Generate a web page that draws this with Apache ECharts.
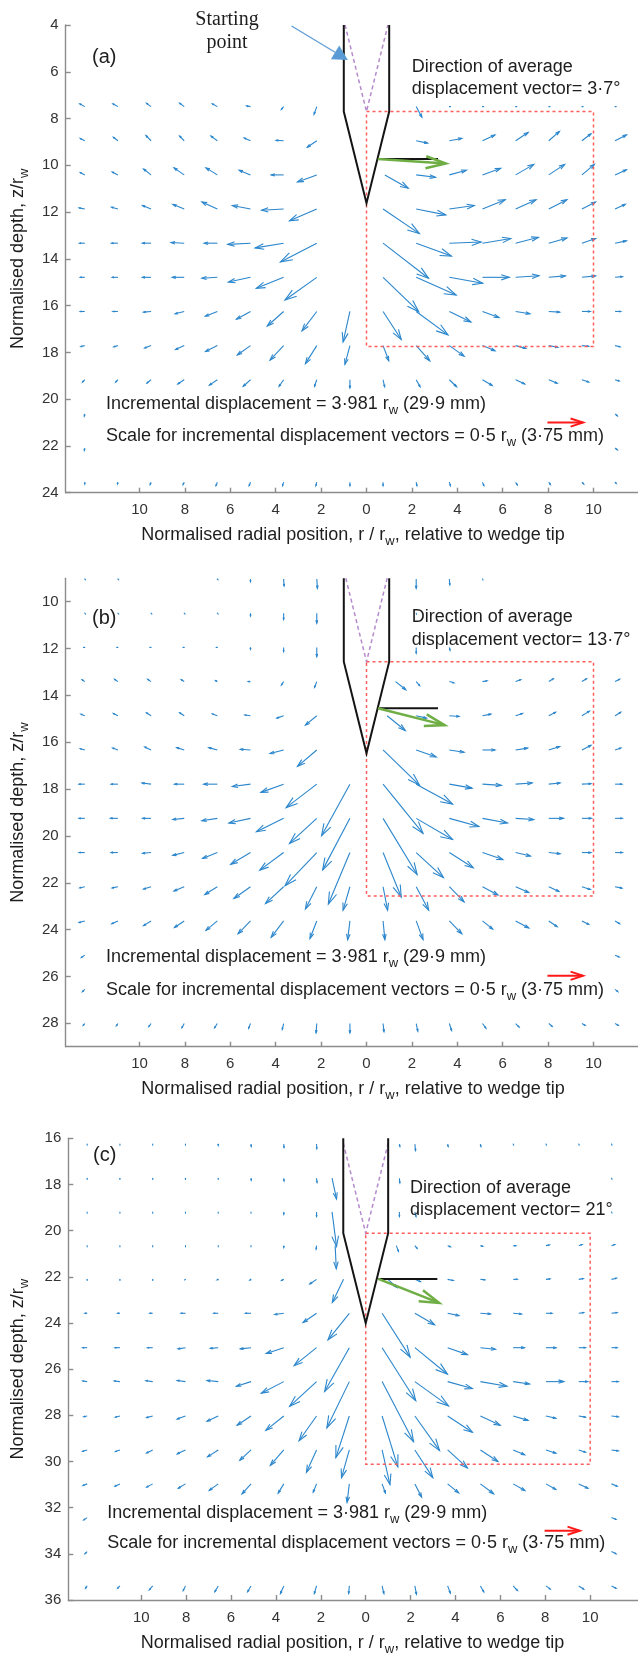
<!DOCTYPE html>
<html><head><meta charset="utf-8">
<script src="https://cdn.jsdelivr.net/npm/echarts@6/dist/echarts.min.js"></script>
<style>html,body{margin:0;padding:0;background:#fff}#c{width:638px;height:1655px}</style>
</head><body><div id="c"></div>
<script>
const _ = null;
// grid columns (r / r_w) shared by all panels
const COL_R = [-12.41,-10.95,-9.49,-8.03,-6.57,-5.11,-3.65,-2.19,-0.73,0.73,2.19,3.65,5.11,6.57,8.03,9.49,10.95];

// ---------- panel (a) ----------
const ROWS_A = [7.49,8.95,10.41,11.87,13.33,14.79,16.25,17.71,19.17,20.63,22.09,23.55];
const U_A = [
[-0.22,-0.22,-0.2,-0.2,-0.22,-0.17,-0.1,-0.12,_,_,0.25,0.05,0.03,0.03,0.02,0.02,0.02],
[-0.2,-0.2,-0.22,-0.2,-0.28,-0.28,-0.33,-0.42,_,_,0.5,0.55,0.55,0.55,0.47,0.4,0.5],
[-0.2,-0.25,-0.33,-0.45,-0.5,-0.5,-0.55,-0.85,_,1.03,0.85,0.75,0.8,0.8,0.7,0.55,0.5],
[-0.25,-0.28,-0.38,-0.5,-0.68,-0.8,-0.97,-1.2,_,1.6,1.3,1.1,1.0,0.9,0.8,0.6,0.45],
[-0.23,-0.28,-0.38,-0.58,-0.58,-1.0,-1.25,-1.6,_,2.0,1.55,1.4,1.25,1.0,0.8,0.6,0.5],
[-0.2,-0.25,-0.38,-0.53,-0.68,-0.97,-1.2,-1.4,_,1.57,1.76,1.47,1.18,1.03,0.73,0.6,0.32],
[-0.2,-0.22,-0.33,-0.4,-0.53,-0.62,-0.72,-0.65,-0.3,0.8,1.4,0.95,0.73,0.63,0.48,0.37,0.25],
[-0.17,-0.18,-0.28,-0.38,-0.52,-0.58,-0.6,-0.5,-0.22,0.25,0.6,0.65,0.55,0.45,0.4,0.3,0.22],
[-0.1,-0.1,-0.18,-0.28,-0.35,-0.32,-0.2,-0.1,0,0.07,0.17,0.32,0.43,0.4,0.37,0.3,0.18],
[-0.02,_,_,_,_,_,_,_,_,_,_,_,_,_,_,_,0.1],
[-0.02,_,_,_,_,_,_,_,_,_,_,_,_,_,_,_,0.1],
[0,-0.02,-0.04,-0.05,-0.06,-0.06,-0.05,-0.04,0,0,0.03,0.05,0.06,0.07,0.07,0.08,0.05]
];
const W_A = [
[-0.12,-0.12,-0.14,-0.15,-0.12,-0.03,0.12,0.33,_,_,0.45,0,0,0,0,0,0],
[-0.1,-0.15,-0.22,-0.2,-0.2,-0.12,-0.02,0.28,_,_,0.1,-0.1,-0.25,-0.35,-0.4,-0.3,-0.25],
[-0.1,-0.12,-0.25,-0.3,-0.3,-0.2,0,0.3,_,0.57,0.1,-0.2,-0.28,-0.45,-0.45,-0.45,-0.22],
[-0.05,-0.08,-0.15,-0.2,-0.3,-0.15,0.05,0.5,_,1.05,0.25,-0.15,-0.4,-0.4,-0.4,-0.3,-0.2],
[0,0,0,-0.03,0,0.05,0.2,0.8,_,1.5,0.55,-0.05,-0.2,-0.25,-0.22,-0.2,-0.1],
[0,0,0,0,0.04,0.2,0.47,0.97,_,1.47,0.76,0.25,0,-0.07,-0.06,-0.06,-0.03],
[0,0,0.03,0.1,0.2,0.33,0.62,0.83,1.3,1.2,1.0,0.45,0.26,0.1,0.03,0,0],
[0.04,0.05,0.1,0.17,0.25,0.4,0.62,0.77,0.8,0.65,0.65,0.45,0.22,0.12,0.07,0.03,0.05],
[0.1,0.1,0.14,0.18,0.23,0.28,0.28,0.28,0.35,0.3,0.3,0.3,0.25,0.18,0.15,0.1,0.05],
[0.1,_,_,_,_,_,_,_,_,_,_,_,_,_,_,_,0.08],
[0.1,_,_,_,_,_,_,_,_,_,_,_,_,_,_,_,0.08],
[0.08,0.08,0.1,0.1,0.15,0.15,0.15,0.15,0.15,0.15,0.15,0.15,0.15,0.12,0.1,0.08,0.05]
];

// ---------- panel (b) ----------
const ROWS_B = [9.03,10.49,11.95,13.41,14.87,16.33,17.79,19.25,20.71,22.17,23.63,25.09,26.55,28.01];
const U_B = [
[0.01,0.01,_,_,0.01,0,0.02,0.03,_,_,0,0.02,0.02,_,_,_,_],
[0.01,0.01,0.01,0.01,0.01,0,0,0,_,_,0.01,_,_,_,_,_,_],
[-0.05,-0.04,-0.04,-0.04,-0.03,0,0,0,_,_,0,0.03,_,_,_,_,_],
[-0.12,-0.15,-0.15,-0.13,-0.08,-0.1,-0.1,-0.1,_,0.45,0.15,0.2,0.2,0.22,0.2,0.2,0.2],
[-0.17,-0.2,-0.2,-0.2,-0.22,-0.25,-0.3,-0.5,_,0.8,0.45,0.43,0.37,0.3,0.3,0.33,0.25],
[-0.2,-0.23,-0.28,-0.33,-0.38,-0.45,-0.6,-0.85,_,1.6,0.88,0.65,0.55,0.53,0.48,0.4,0.25],
[-0.25,-0.3,-0.4,-0.43,-0.6,-0.8,-1.0,-1.35,-1.25,1.76,1.6,1.0,0.83,0.73,0.5,0.4,0.3],
[-0.25,-0.33,-0.37,-0.5,-0.68,-0.95,-1.2,-1.2,-1.2,1.5,1.6,1.3,1.1,0.8,0.65,0.42,0.32],
[-0.25,-0.3,-0.37,-0.5,-0.65,-0.87,-1.05,-1.4,-0.95,0.8,1.2,1.05,0.9,0.65,0.5,0.4,0.32],
[-0.22,-0.25,-0.33,-0.45,-0.55,-0.73,-0.8,-0.5,-0.3,0.2,0.55,0.65,0.68,0.58,0.45,0.37,0.3],
[-0.25,-0.27,-0.33,-0.43,-0.5,-0.55,-0.55,-0.3,-0.1,0.08,0.3,0.55,0.45,0.58,0.37,0.3,0.2],
[-0.15,_,_,_,_,_,_,_,_,_,_,_,_,_,_,_,0.18],
[-0.1,_,_,_,_,_,_,_,_,_,_,_,_,_,_,_,0.12],
[-0.07,-0.07,-0.1,-0.1,-0.12,-0.08,-0.06,-0.03,0,0.04,0.07,0.1,0.15,0.15,0.15,0.14,0.14]
];
const W_B = [
[0.01,0.01,_,_,0.01,0.12,0.3,0.4,_,_,0.4,0.25,0.04,_,_,_,_],
[0.01,0.01,0.01,0.01,0.01,0.12,0.27,0.43,_,_,0.03,_,_,_,_,_,_],
[0,0,0,0,0,0.08,0.18,0.4,_,_,0.25,0.12,_,_,_,_,_],
[-0.08,-0.1,-0.1,-0.08,-0.04,0,0.15,0.25,_,0.35,0.17,0.05,-0.03,-0.08,-0.12,-0.12,-0.1],
[-0.07,-0.1,-0.13,-0.13,-0.08,-0.03,0.1,0.4,_,0.63,0.1,0.03,-0.07,-0.1,-0.15,-0.2,-0.15],
[-0.05,-0.08,-0.13,-0.1,-0.1,-0.03,0.15,0.7,_,1.5,0.3,0.1,0,-0.08,-0.15,-0.2,-0.08],
[0,0,-0.05,0,0,0.1,0.35,1.0,2.2,2.1,0.85,0.17,0.05,-0.05,-0.05,-0.02,0],
[0,0,0,0.05,0.1,0.2,0.57,1.07,2.2,2.4,0.9,0.35,0.2,0.05,0,0,0],
[0,0,0.03,0.12,0.25,0.5,0.75,1.42,2.2,1.9,1.07,0.65,0.3,0.15,0.05,0,0],
[0.05,0.05,0.1,0.18,0.33,0.5,0.72,0.95,1.0,1.0,1.0,0.65,0.35,0.25,0.2,0.12,0.06],
[0.07,0.12,0.2,0.28,0.4,0.55,0.7,0.75,0.8,0.8,0.8,0.55,0.35,0.3,0.25,0.15,0.12],
[0.1,_,_,_,_,_,_,_,_,_,_,_,_,_,_,_,0.08],
[0.1,_,_,_,_,_,_,_,_,_,_,_,_,_,_,_,0.1],
[0.08,0.1,0.13,0.18,0.18,0.2,0.25,0.4,0.4,0.35,0.33,0.3,0.2,0.15,0.12,0.08,0.08]
];

// ---------- panel (c) ----------
const ROWS_C = [16.25,17.73,19.19,20.65,22.11,23.58,25.07,26.54,28.03,29.5,30.97,32.43,33.9,35.39];
const U_C = [
[0,0,0,0,0,0.01,0.01,0.01,_,0.02,0.03,0.02,0.02,0.01,0.01,0.01,0.01],
[0,0,0,0,0,0.01,0.01,0.02,0.2,0.02,_,_,_,_,_,_,0.01],
[0,0,0,0,0,0,0,0,0.2,0,0.05,_,_,_,_,_,0.01],
[0,0,0,0,0,0,0,-0.02,0.05,0.1,0.1,0.12,0.1,0.12,0.15,0.15,0.15],
[0,0,0,-0.03,-0.05,-0.05,-0.1,-0.3,-0.5,0.4,0.25,0.25,0.2,0.18,0.18,0.2,0.22],
[-0.1,-0.1,-0.13,-0.2,-0.2,-0.25,-0.4,-0.6,-0.95,1.25,0.88,0.5,0.45,0.37,0.27,0.22,0.25],
[-0.2,-0.22,-0.23,-0.33,-0.35,-0.48,-0.78,-1.0,-1.1,1.5,1.45,0.88,0.67,0.5,0.45,0.3,0.25],
[-0.2,-0.25,-0.3,-0.37,-0.5,-0.65,-1.0,-1.2,-1.0,1.4,1.5,1.1,1.18,0.73,0.8,0.4,0.3],
[-0.15,-0.2,-0.27,-0.37,-0.5,-0.62,-0.8,-0.78,-0.6,0.7,1.1,1.1,0.88,0.66,0.44,0.3,0.3],
[-0.2,-0.2,-0.27,-0.37,-0.48,-0.5,-0.6,-0.45,-0.35,0.35,0.8,0.88,0.78,0.51,0.44,0.3,0.3],
[-0.18,-0.22,-0.27,-0.32,-0.4,-0.4,-0.25,-0.15,-0.1,0.15,0.3,0.49,0.59,0.52,0.44,0.41,0.25],
[-0.15,_,_,_,_,_,_,_,_,_,_,_,_,_,_,_,0.2],
[-0.1,_,_,_,_,_,_,_,_,_,_,_,_,_,_,_,0.2],
[-0.07,-0.1,-0.15,-0.1,-0.15,-0.15,-0.15,-0.1,-0.03,0.08,0.07,0.12,0.15,0.19,0.19,0.22,0.2]
];
const W_C = [
[0.02,0.02,0.02,0.02,0.06,0.1,0.15,0.2,_,0.1,0.28,0.1,0.1,0.02,0.02,0.02,0.02],
[0.02,0.02,0.02,0.02,0.03,0.08,0.12,0.18,0.9,0.2,_,_,_,_,_,_,0.02],
[0.02,0.02,0.02,0.02,0.02,0.03,0.1,0.2,1.5,0.2,0.2,_,_,_,_,_,0.02],
[0.02,0.02,0.02,0.02,0.02,0.03,0.08,0.15,1.0,0.25,0.12,0.05,0.03,0,-0.03,-0.05,-0.05],
[0.02,0.02,0.02,0.02,0.02,0.03,0.05,0.2,1.0,0.35,0.1,0.05,0.02,0,-0.02,-0.03,-0.05],
[0,0,0,0,0,0,0.05,0.4,1.15,1.9,0.5,0.1,0.03,0.03,0,-0.03,-0.03],
[0,0,0,0.05,0.03,0.05,0.25,0.78,1.9,2.3,1.15,0.3,0.07,0,0,0,0],
[-0.03,-0.03,-0.04,-0.05,-0.05,0.2,0.5,1.07,2.0,2.6,1.05,0.3,0.2,0.1,0,0,0],
[0.03,0.05,0.07,0.13,0.23,0.4,0.62,1.07,1.8,2.2,1.5,0.7,0.4,0.19,0.1,0.05,0.03],
[0.06,0.07,0.13,0.17,0.3,0.45,0.67,0.97,1.2,1.5,1.2,0.78,0.5,0.21,0.14,0.1,0.04],
[0.07,0.1,0.14,0.19,0.28,0.43,0.4,0.36,0.8,0.4,0.57,0.39,0.43,0.29,0.24,0.19,0.1],
[0.1,_,_,_,_,_,_,_,_,_,_,_,_,_,_,_,0.08],
[0.1,_,_,_,_,_,_,_,_,_,_,_,_,_,_,_,0.1],
[0.1,0.1,0.17,0.2,0.25,0.25,0.33,0.33,0.33,0.33,0.36,0.31,0.26,0.2,0.14,0.14,0.1]
];

// ---------- axes ----------
const Z_MIN = [4, 9, 16];
const Z_MAX = [24, 29, 36];
const R_MIN = -13.25;
const R_MAX = [11.96, 11.96, 12.13];
const X_TICKS = [-10,-8,-6,-4,-2,0,2,4,6,8,10];
const Y_TICKS = [
  [4,6,8,10,12,14,16,18,20,22,24],
  [10,12,14,16,18,20,22,24,26,28],
  [16,18,20,22,24,26,28,30,32,34,36]
];

// ---------- annotations (data units) ----------
const WEDGE_HALF = 1;
const WEDGE_SHOULDER = [7.7, 12.56, 20.11];
const WEDGE_TIP = [11.62, 16.47, 24.01];
const AVG_LINE_Z = [9.73, 14.55, 22.09];
const AVG_LINE_R0 = [0.5, 0.5, 0.56];
const AVG_LINE_R1 = [3.15, 3.15, 3.19];
const AVG_DIR_DEG = [3.7, 13.7, 21];
const AVG_LEN = [3.0, 3.03, 2.9];
const BOX_R = [0, 10];
const BOX_BOTTOM = [17.75, 22.56, 30.12];
const SCALE_ARROW_R = [7.97, 9.54];
const SCALE_ARROW_Z = [21.0, 25.97, 33.0];
const START_ARROW_FROM = [-3.3, 4.04];
const START_ARROW_TO = [-0.82, 5.5];

// ---------- texts ----------
const PANEL_LABELS = ['(a)', '(b)', '(c)'];
const DIR_LINE1 = 'Direction of average';
const DIR_LINE2 = ['displacement vector= 3·7°', 'displacement vector= 13·7°', 'displacement vector= 21°'];
const INC_TEXT = ['Incremental displacement = 3·981 r', 'w', ' (29·9 mm)'];
const SCALE_TEXT = ['Scale for incremental displacement vectors = 0·5 r', 'w', ' (3·75 mm)'];
const X_TITLE = ['Normalised radial position, r / r', 'w', ', relative to wedge tip'];
const Y_TITLE = ['Normalised depth, z/r', 'w'];
const START_TEXT = ['Starting', 'point'];

// ---------- layout ----------
const GRIDS = [
  {left: 65.7, top: 25, width: 572.3, height: 467.7},
  {left: 65.7, top: 578.3, width: 572.3, height: 468.4},
  {left: 68.3, top: 1138.3, width: 569.7, height: 461.7}
];
const FONT = '"Liberation Sans", Arial, Helvetica, sans-serif';
const SERIF = '"Liberation Serif", "Times New Roman", serif';
const TXT = '#1e1e1e';
const AX = '#8c8c8c';
const QCOL = '#2b86cc';

function quiverData(rows, U, W, i) {
  const out = [];
  const sh = WEDGE_SHOULDER[i], tip = WEDGE_TIP[i];
  rows.forEach((z, j) => COL_R.forEach((r, k) => {
    const u = U[j][k], w = W[j][k];
    if (u == null || w == null) return;
    let rr = r;
    const hw = z <= sh ? WEDGE_HALF : Math.max(0, (tip - z) / (tip - sh));
    if (hw > 0 && Math.abs(r) < hw + 0.5) rr = Math.sign(r) * (hw + 0.5);
    out.push([rr, z, u, w]);
  }));
  return out;
}

function arrowShapes(p0, p1, color, lw, headFrac, headW, minHead, maxHead) {
  const dx = p1[0] - p0[0], dy = p1[1] - p0[1];
  let L = Math.hypot(dx, dy);
  const ch = [];
  if (L < 1.2) {
    const ux = L > 0 ? dx / L : 1, uy = L > 0 ? dy / L : 0;
    ch.push({type: 'line', shape: {x1: p0[0], y1: p0[1], x2: p0[0] + ux * 1.2, y2: p0[1] + uy * 1.2},
      style: {stroke: color, lineWidth: lw, lineCap: 'round'}});
    return ch;
  }
  ch.push({type: 'line', shape: {x1: p0[0], y1: p0[1], x2: p1[0], y2: p1[1]}, style: {stroke: color, lineWidth: lw}});
  let hl = Math.min(maxHead, Math.max(minHead, headFrac * L));
  const ux = dx / L, uy = dy / L;
  const hw = hl * headW;
  const bx = p1[0] - ux * hl, by = p1[1] - uy * hl;
  ch.push({type: 'polyline', shape: {points: [[bx - uy * hw, by + ux * hw], p1, [bx + uy * hw, by - ux * hw]]},
    style: {stroke: color, lineWidth: lw, fill: null}});
  return ch;
}

function quiverSeries(i, data) {
  return {
    type: 'custom', coordinateSystem: 'cartesian2d', xAxisIndex: i, yAxisIndex: i,
    silent: true, animation: false, data: data,
    encode: {x: 0, y: 1},
    renderItem: function (params, api) {
      const r = api.value(0), z = api.value(1), u = api.value(2), w = api.value(3);
      const p0 = api.coord([r, z]), p1 = api.coord([r + u, z + w]);
      return {type: 'group', children: arrowShapes(p0, p1, QCOL, 1.1, 0.3, 0.32, 1.5, 12)};
    }
  };
}

function annotSeries(i) {
  return {
    type: 'custom', coordinateSystem: 'cartesian2d', xAxisIndex: i, yAxisIndex: i,
    silent: true, animation: false, data: [[0, Z_MIN[i]]], encode: {x: 0, y: 1}, z: 5,
    renderItem: function (params, api) {
      const c = (r, z) => api.coord([r, z]);
      const zt = Z_MIN[i], sh = WEDGE_SHOULDER[i], tip = WEDGE_TIP[i];
      const taper = tip - sh;
      const ch = [];
      const zs = Math.max(zt, sh - taper);
      const rs = WEDGE_HALF * (sh - zs) / taper;
      ch.push({type: 'polyline', shape: {points: [c(-rs, zs), c(0, sh), c(rs, zs)]},
        style: {stroke: '#b58bcb', lineWidth: 1.5, lineDash: [4, 3], fill: null}});
      ch.push({type: 'polyline', shape: {points: [c(BOX_R[0], sh), c(BOX_R[1], sh), c(BOX_R[1], BOX_BOTTOM[i]), c(BOX_R[0], BOX_BOTTOM[i]), c(BOX_R[0], sh)]},
        style: {stroke: '#ff5c5c', lineWidth: 1.5, lineDash: [3, 3], fill: null}});
      ch.push({type: 'polyline', shape: {points: [c(-WEDGE_HALF, zt), c(-WEDGE_HALF, sh), c(0, tip), c(WEDGE_HALF, sh), c(WEDGE_HALF, zt)]},
        style: {stroke: '#141414', lineWidth: 2, fill: null}});
      const a0 = c(AVG_LINE_R0[i], AVG_LINE_Z[i]), a1 = c(AVG_LINE_R1[i], AVG_LINE_Z[i]);
      ch.push({type: 'line', shape: {x1: a0[0], y1: a0[1], x2: a1[0], y2: a1[1]}, style: {stroke: '#141414', lineWidth: 2}});
      const th = AVG_DIR_DEG[i] * Math.PI / 180;
      const g1 = c(AVG_LINE_R0[i] + AVG_LEN[i] * Math.cos(th), AVG_LINE_Z[i] + AVG_LEN[i] * Math.sin(th));
      arrowShapes(a0, g1, '#6fae45', 2.5, 0.3, 0.3, 18, 20).forEach(s => ch.push(s));
      const s0 = c(SCALE_ARROW_R[0], SCALE_ARROW_Z[i]), s1 = c(SCALE_ARROW_R[1], SCALE_ARROW_Z[i]);
      arrowShapes(s0, s1, '#ff1a1a', 2, 0.35, 0.33, 12, 13).forEach(s => ch.push(s));
      if (i === 0) {
        const b0 = c(START_ARROW_FROM[0], START_ARROW_FROM[1]), b1 = c(START_ARROW_TO[0], START_ARROW_TO[1]);
        const dx = b1[0] - b0[0], dy = b1[1] - b0[1], L = Math.hypot(dx, dy), ux = dx / L, uy = dy / L;
        const hl = 15, hw = 8;
        const bx = b1[0] - ux * hl, by = b1[1] - uy * hl;
        ch.push({type: 'line', shape: {x1: b0[0], y1: b0[1], x2: bx, y2: by}, style: {stroke: '#5b9bd5', lineWidth: 1.2}});
        ch.push({type: 'polygon', shape: {points: [[bx - uy * hw, by + ux * hw], b1, [bx + uy * hw, by - ux * hw]]},
          style: {fill: '#5b9bd5', stroke: null}});
      }
      return {type: 'group', children: ch};
    }
  };
}

function rich(size) {
  return {
    n: {fontSize: size, fontFamily: FONT, fill: TXT, color: TXT},
    s: {fontSize: Math.round(size * 0.72), fontFamily: FONT, fill: TXT, color: TXT, padding: [Math.round(size * 0.72), 0, 0, 0]}
  };
}
function subText(parts) {
  let t = '{n|' + parts[0] + '}{s|' + parts[1] + '}';
  if (parts[2]) t += '{n|' + parts[2] + '}';
  return t;
}
function gText(x, y, text, size, opts) {
  opts = opts || {};
  const align = opts.align || 'left';
  return {
    type: 'text', x: x, y: y, rotation: opts.rot || 0, silent: true, z: 100,
    style: {
      text: text, fill: opts.fill || TXT, font: size + 'px ' + (opts.family || FONT),
      align: align, verticalAlign: 'middle', textAlign: align, textVerticalAlign: 'middle',
      rich: opts.rich ? rich(size) : undefined
    }
  };
}

const DIR_POS = [[411.7, 66.7, 89.3], [411.7, 616.7, 640], [410, 1188.3, 1210]];
const LABEL_POS = [[92, 57], [92, 618], [93, 1155]];
const INC_POS = [[106, 404, 436], [106, 956.7, 990], [107.3, 1513.3, 1543.3]];
const XT_POS = [[353, 535], [353, 1089], [352.5, 1643]];

const graphics = [];
for (let i = 0; i < 3; i++) {
  graphics.push(gText(LABEL_POS[i][0], LABEL_POS[i][1], PANEL_LABELS[i], 20));
  graphics.push(gText(DIR_POS[i][0], DIR_POS[i][1], DIR_LINE1, 18));
  graphics.push(gText(DIR_POS[i][0], DIR_POS[i][2], DIR_LINE2[i], 18));
  graphics.push(gText(INC_POS[i][0], INC_POS[i][1], subText(INC_TEXT), 18, {rich: true}));
  graphics.push(gText(INC_POS[i][0], INC_POS[i][2], subText(SCALE_TEXT), 18, {rich: true}));
  graphics.push(gText(XT_POS[i][0], XT_POS[i][1], subText(X_TITLE), 18, {rich: true, align: 'center'}));
  const g = GRIDS[i];
  graphics.push(gText(18, g.top + g.height / 2, subText(Y_TITLE), 18, {rich: true, align: 'center', rot: Math.PI / 2}));
}
graphics.push(gText(227, 20, START_TEXT[0], 20, {family: SERIF, align: 'center'}));
graphics.push(gText(227, 43, START_TEXT[1], 20, {family: SERIF, align: 'center'}));

const xAxes = [], yAxes = [], grids = [];
for (let i = 0; i < 3; i++) {
  grids.push(Object.assign({containLabel: false}, GRIDS[i]));
  xAxes.push({
    gridIndex: i, type: 'value', min: R_MIN, max: R_MAX[i],
    axisLine: {show: true, onZero: false, lineStyle: {color: AX, width: 1.4}},
    axisTick: {show: true, inside: true, length: 5, customValues: X_TICKS, lineStyle: {color: AX, width: 1.4}},
    axisLabel: {show: true, customValues: X_TICKS, formatter: v => String(Math.abs(v)), color: '#333', fontSize: 15, fontFamily: FONT, margin: 10},
    splitLine: {show: false}
  });
  yAxes.push({
    gridIndex: i, type: 'value', inverse: true, min: Z_MIN[i], max: Z_MAX[i],
    axisLine: {show: true, onZero: false, lineStyle: {color: AX, width: 1.4}},
    axisTick: {show: true, inside: true, length: 5, customValues: Y_TICKS[i], lineStyle: {color: AX, width: 1.4}},
    axisLabel: {show: true, customValues: Y_TICKS[i], color: '#333', fontSize: 15, fontFamily: FONT, margin: 7},
    splitLine: {show: false}
  });
}

const chart = echarts.init(document.getElementById('c'), null, {renderer: 'canvas'});
chart.setOption({
  backgroundColor: '#ffffff',
  animation: false,
  grid: grids, xAxis: xAxes, yAxis: yAxes,
  series: [
    quiverSeries(0, quiverData(ROWS_A, U_A, W_A, 0)),
    quiverSeries(1, quiverData(ROWS_B, U_B, W_B, 1)),
    quiverSeries(2, quiverData(ROWS_C, U_C, W_C, 2)),
    annotSeries(0), annotSeries(1), annotSeries(2)
  ],
  graphic: graphics
});
</script></body></html>
